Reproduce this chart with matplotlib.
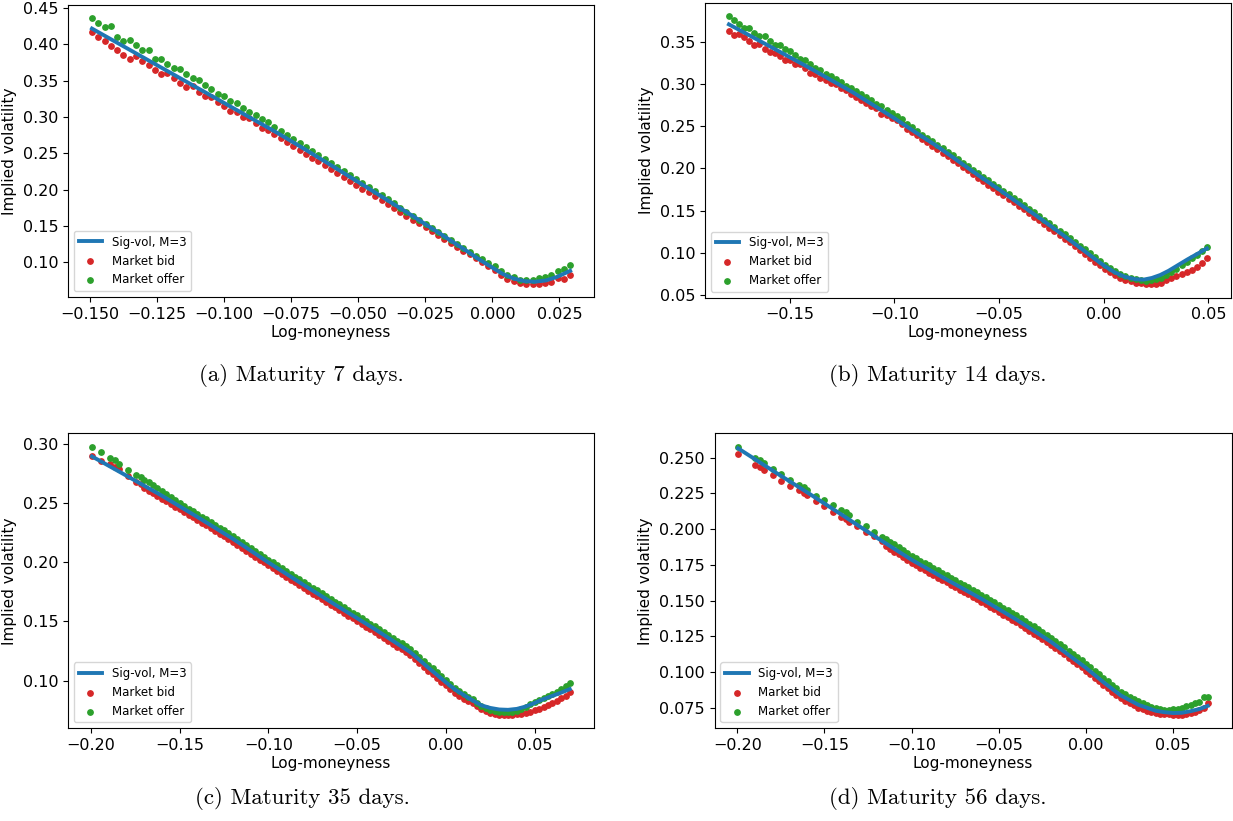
import numpy as np
import matplotlib
matplotlib.use('Agg')
import matplotlib.pyplot as plt
from matplotlib.ticker import MultipleLocator

# ---------------- (a) maturity 7 days ----------------
x_a = [-0.1492, -0.1469, -0.1445, -0.1422, -0.1398, -0.1375, -0.1351, -0.1328, -0.1304, -0.1281,
       -0.1258, -0.1234, -0.1211, -0.1187, -0.1164, -0.1140, -0.1117, -0.1093, -0.1070, -0.1047,
       -0.1023, -0.1000, -0.0976, -0.0953, -0.0929, -0.0906, -0.0882, -0.0859, -0.0835, -0.0812,
       -0.0789, -0.0765, -0.0742, -0.0718, -0.0695, -0.0671, -0.0648, -0.0624, -0.0601, -0.0578,
       -0.0554, -0.0531, -0.0507, -0.0484, -0.0460, -0.0437, -0.0413, -0.0390, -0.0366, -0.0343,
       -0.0320, -0.0296, -0.0273, -0.0249, -0.0226, -0.0202, -0.0179, -0.0155, -0.0132, -0.0109,
       -0.0085, -0.0062, -0.0038, -0.0015, 0.0009, 0.0032, 0.0056, 0.0079, 0.0103, 0.0126,
       0.0150, 0.0173, 0.0196, 0.0220, 0.0243, 0.0267, 0.0290]
offer_a = [0.4358, 0.4298, 0.4234, 0.4248, 0.4106, 0.4042, 0.4060, 0.3987, 0.3928, 0.3928,
           0.3804, 0.3800, 0.3731, 0.3671, 0.3662, 0.3589, 0.3530, 0.3511, 0.3443, 0.3379,
           0.3310, 0.3292, 0.3223, 0.3191, 0.3127, 0.3068, 0.3031, 0.2967, 0.2930, 0.2862,
           0.2807, 0.2751, 0.2696, 0.2640, 0.2585, 0.2529, 0.2474, 0.2418, 0.2363, 0.2307,
           0.2252, 0.2196, 0.2141, 0.2085, 0.2030, 0.1974, 0.1919, 0.1863, 0.1808, 0.1752,
           0.1697, 0.1641, 0.1586, 0.1530, 0.1475, 0.1419, 0.1364, 0.1308, 0.1253, 0.1197,
           0.1142, 0.1090, 0.1040, 0.0990, 0.0940, 0.0872, 0.0826, 0.0789, 0.0757, 0.0748,
           0.0757, 0.0780, 0.0794, 0.0826, 0.0872, 0.0899, 0.0954]
bid_a = [0.4166, 0.4102, 0.4042, 0.3978, 0.3918, 0.3859, 0.3800, 0.3832, 0.3767, 0.3708,
         0.3649, 0.3585, 0.3603, 0.3539, 0.3470, 0.3411, 0.3420, 0.3347, 0.3287, 0.3273,
         0.3209, 0.3150, 0.3086, 0.3068, 0.2999, 0.2981, 0.2917, 0.2853, 0.2816, 0.2761,
         0.2707, 0.2653, 0.2600, 0.2546, 0.2493, 0.2440, 0.2387, 0.2333, 0.2280, 0.2226,
         0.2173, 0.2119, 0.2066, 0.2013, 0.1960, 0.1906, 0.1853, 0.1799, 0.1746, 0.1692,
         0.1639, 0.1586, 0.1533, 0.1479, 0.1426, 0.1372, 0.1319, 0.1265, 0.1212, 0.1159,
         0.1106, 0.1056, 0.0995, 0.0940, 0.0885, 0.0826, 0.0771, 0.0734, 0.0711, 0.0702,
         0.0702, 0.0702, 0.0716, 0.0725, 0.0780, 0.0771, 0.0826]
fitx_a = [-0.1492, -0.14, -0.13, -0.12, -0.11, -0.10, -0.09, -0.08, -0.07, -0.06, -0.05, -0.04,
          -0.03, -0.02, -0.01, -0.005, 0.0, 0.004, 0.008, 0.012, 0.016, 0.020, 0.024, 0.029]
fit_a = [0.4216, 0.4025, 0.3817, 0.3609, 0.3401, 0.3193, 0.2985, 0.2777, 0.2557, 0.2332, 0.2104, 0.1874,
         0.1643, 0.1405, 0.1165, 0.1040, 0.0925, 0.0835, 0.0774, 0.0738, 0.0730, 0.0748, 0.0795, 0.0880]

# ---------------- (b) maturity 14 days ----------------
x_b = [-0.1791, -0.1767, -0.1742, -0.1718, -0.1694, -0.1670, -0.1645, -0.1621, -0.1597, -0.1572,
       -0.1548, -0.1524, -0.1499, -0.1475, -0.1451, -0.1427, -0.1402, -0.1378, -0.1354, -0.1329,
       -0.1305, -0.1281, -0.1256, -0.1232, -0.1208, -0.1184, -0.1159, -0.1135, -0.1111, -0.1086,
       -0.1062, -0.1038, -0.1013, -0.0989, -0.0965, -0.0941, -0.0916, -0.0892, -0.0868, -0.0843,
       -0.0819, -0.0795, -0.0770, -0.0746, -0.0722, -0.0698, -0.0673, -0.0649, -0.0625, -0.0600,
       -0.0576, -0.0552, -0.0527, -0.0503, -0.0479, -0.0454, -0.0430, -0.0406, -0.0382, -0.0357,
       -0.0333, -0.0309, -0.0284, -0.0260, -0.0236, -0.0211, -0.0187, -0.0163, -0.0139, -0.0114,
       -0.0090, -0.0066, -0.0041, -0.0017, 0.0007, 0.0032, 0.0056, 0.0080, 0.0104, 0.0129,
       0.0153, 0.0177, 0.0202, 0.0226, 0.0250, 0.0275, 0.0299, 0.0323, 0.0347, 0.0372,
       0.0396, 0.0420, 0.0445, 0.0469, 0.0493]
offer_b = [0.3808, 0.3757, 0.3710, 0.3662, 0.3666, 0.3611, 0.3568, 0.3568, 0.3512, 0.3469,
           0.3465, 0.3414, 0.3394, 0.3350, 0.3299, 0.3291, 0.3244, 0.3189, 0.3173, 0.3125,
           0.3102, 0.3058, 0.3031, 0.2983, 0.2960, 0.2920, 0.2881, 0.2845, 0.2810, 0.2770,
           0.2739, 0.2699, 0.2660, 0.2620, 0.2581, 0.2525, 0.2486, 0.2446, 0.2401, 0.2361,
           0.2322, 0.2283, 0.2240, 0.2198, 0.2156, 0.2114, 0.2070, 0.2028, 0.1986, 0.1942,
           0.1901, 0.1860, 0.1818, 0.1777, 0.1735, 0.1692, 0.1650, 0.1608, 0.1566, 0.1522,
           0.1480, 0.1438, 0.1393, 0.1350, 0.1307, 0.1262, 0.1218, 0.1174, 0.1129, 0.1083,
           0.1038, 0.0992, 0.0945, 0.0902, 0.0858, 0.0816, 0.0778, 0.0748, 0.0720, 0.0700,
           0.0682, 0.0672, 0.0668, 0.0672, 0.0685, 0.0705, 0.0738, 0.0772, 0.0808, 0.0850,
           0.0895, 0.0935, 0.0975, 0.1020, 0.1068]
bid_b = [0.3631, 0.3583, 0.3599, 0.3560, 0.3508, 0.3469, 0.3481, 0.3421, 0.3378, 0.3374,
         0.3335, 0.3291, 0.3283, 0.3236, 0.3236, 0.3189, 0.3137, 0.3125, 0.3074, 0.3054,
         0.3015, 0.2999, 0.2960, 0.2928, 0.2881, 0.2849, 0.2810, 0.2778, 0.2739, 0.2723,
         0.2652, 0.2632, 0.2604, 0.2573, 0.2533, 0.2474, 0.2434, 0.2395, 0.2349, 0.2309,
         0.2270, 0.2231, 0.2188, 0.2146, 0.2104, 0.2062, 0.2018, 0.1976, 0.1934, 0.1890,
         0.1849, 0.1808, 0.1766, 0.1725, 0.1683, 0.1640, 0.1598, 0.1556, 0.1514, 0.1470,
         0.1428, 0.1386, 0.1341, 0.1298, 0.1255, 0.1210, 0.1166, 0.1122, 0.1077, 0.1031,
         0.0986, 0.0940, 0.0894, 0.0851, 0.0810, 0.0772, 0.0735, 0.0705, 0.0680, 0.0660,
         0.0645, 0.0635, 0.0628, 0.0625, 0.0628, 0.0640, 0.0670, 0.0700, 0.0725, 0.0745,
         0.0770, 0.0795, 0.0830, 0.0880, 0.0940]
fitx_b = [-0.1791, -0.16, -0.14, -0.12, -0.10, -0.09, -0.08, -0.07, -0.06, -0.05, -0.04, -0.03, -0.02,
          -0.01, -0.005, 0.0, 0.005, 0.010, 0.015, 0.019, 0.023, 0.027, 0.031, 0.035, 0.040, 0.045, 0.0493]
fit_b = [0.3710, 0.3455, 0.3185, 0.2905, 0.2595, 0.2430, 0.2270, 0.2095, 0.1920, 0.1750, 0.1575, 0.1400, 0.1220,
         0.1035, 0.0940, 0.0850, 0.0770, 0.0715, 0.0685, 0.0680, 0.0700, 0.0735, 0.0785, 0.0845, 0.0920, 0.0990, 0.1050]

# ---------------- (c) maturity 35 days ----------------
x_c = [-0.1994, -0.1944, -0.1895, -0.1867, -0.1843, -0.1792, -0.1744, -0.1717,
       -0.1700, -0.1675, -0.1650, -0.1625, -0.1600, -0.1575, -0.1550, -0.1525, -0.1500, -0.1475,
       -0.1450, -0.1425, -0.1400, -0.1375, -0.1350, -0.1325, -0.1300, -0.1275, -0.1250, -0.1225,
       -0.1200, -0.1175, -0.1150, -0.1125, -0.1100, -0.1075, -0.1050, -0.1025, -0.1000, -0.0975,
       -0.0950, -0.0925, -0.0900, -0.0875, -0.0850, -0.0825, -0.0800, -0.0775, -0.0750, -0.0725,
       -0.0700, -0.0675, -0.0650, -0.0625, -0.0600, -0.0575, -0.0550, -0.0525, -0.0500, -0.0475,
       -0.0450, -0.0425, -0.0400, -0.0375, -0.0350, -0.0325, -0.0300, -0.0275, -0.0250, -0.0225,
       -0.0200, -0.0175, -0.0150, -0.0125, -0.0100, -0.0075, -0.0050, -0.0025, 0.0000, 0.0025,
       0.0050, 0.0075, 0.0100, 0.0125, 0.0150, 0.0175, 0.0200, 0.0225, 0.0250, 0.0275,
       0.0300, 0.0325, 0.0350, 0.0375, 0.0400, 0.0425, 0.0450, 0.0475, 0.0500, 0.0525,
       0.0550, 0.0575, 0.0600, 0.0625, 0.0650, 0.0675, 0.0700]
offer_c = [0.2980, 0.2932, 0.2881, 0.2870, 0.2833, 0.2780, 0.2743, 0.2726,
           0.2700, 0.2679, 0.2653, 0.2631, 0.2605, 0.2583, 0.2555, 0.2533, 0.2505, 0.2478,
           0.2455, 0.2433, 0.2410, 0.2387, 0.2364, 0.2341, 0.2318, 0.2294, 0.2271, 0.2248,
           0.2225, 0.2200, 0.2175, 0.2150, 0.2125, 0.2100, 0.2075, 0.2050, 0.2025, 0.2001,
           0.1977, 0.1953, 0.1929, 0.1905, 0.1881, 0.1857, 0.1833, 0.1810, 0.1786, 0.1763,
           0.1739, 0.1716, 0.1692, 0.1669, 0.1645, 0.1622, 0.1599, 0.1576, 0.1553, 0.1529,
           0.1506, 0.1483, 0.1460, 0.1436, 0.1411, 0.1387, 0.1363, 0.1338, 0.1314, 0.1289,
           0.1265, 0.1233, 0.1200, 0.1168, 0.1135, 0.1104, 0.1073, 0.1041, 0.1005, 0.0972,
           0.0940, 0.0912, 0.0888, 0.0864, 0.0840, 0.0813, 0.0788, 0.0768, 0.0750, 0.0740,
           0.0733, 0.0731, 0.0730, 0.0736, 0.0745, 0.0762, 0.0780, 0.0799, 0.0818, 0.0835,
           0.0852, 0.0870, 0.0888, 0.0906, 0.0925, 0.0950, 0.0982]
bid_c = [0.2898, 0.2856, 0.2836, 0.2805, 0.2791, 0.2729, 0.2684, 0.2667,
         0.2630, 0.2609, 0.2588, 0.2566, 0.2540, 0.2518, 0.2495, 0.2473, 0.2450, 0.2428,
         0.2405, 0.2383, 0.2360, 0.2337, 0.2314, 0.2291, 0.2268, 0.2244, 0.2221, 0.2198,
         0.2175, 0.2150, 0.2125, 0.2100, 0.2075, 0.2050, 0.2025, 0.2000, 0.1975, 0.1951,
         0.1927, 0.1903, 0.1879, 0.1855, 0.1831, 0.1807, 0.1783, 0.1760, 0.1736, 0.1713,
         0.1689, 0.1666, 0.1642, 0.1619, 0.1595, 0.1572, 0.1549, 0.1526, 0.1503, 0.1479,
         0.1456, 0.1433, 0.1410, 0.1386, 0.1361, 0.1337, 0.1313, 0.1288, 0.1264, 0.1239,
         0.1215, 0.1183, 0.1150, 0.1118, 0.1085, 0.1054, 0.1023, 0.0991, 0.0958, 0.0925,
         0.0895, 0.0868, 0.0845, 0.0826, 0.0808, 0.0784, 0.0762, 0.0742, 0.0725, 0.0714,
         0.0710, 0.0709, 0.0710, 0.0711, 0.0713, 0.0718, 0.0725, 0.0736, 0.0748, 0.0763,
         0.0778, 0.0795, 0.0812, 0.0830, 0.0850, 0.0873, 0.0900]
fitx_c = [-0.1994, -0.18, -0.16, -0.14, -0.12, -0.10, -0.08, -0.06, -0.04, -0.02, -0.01, 0.0, 0.005,
          0.010, 0.015, 0.020, 0.025, 0.030, 0.035, 0.040, 0.045, 0.050, 0.055, 0.060, 0.065, 0.0698]
fit_c = [0.2898, 0.2735, 0.2565, 0.2385, 0.2200, 0.2000, 0.1808, 0.1620, 0.1435, 0.1240, 0.1110, 0.0985, 0.0925,
         0.0878, 0.0832, 0.0790, 0.0768, 0.0755, 0.0752, 0.0760, 0.0780, 0.0810, 0.0843, 0.0870, 0.0898, 0.0927]

# ---------------- (d) maturity 56 days ----------------
x_d = [-0.1996, -0.1897, -0.1872, -0.1849, -0.1796, -0.1750, -0.1700, -0.1649, -0.1620, -0.1601,
       -0.1551, -0.1502, -0.1452, -0.1406, -0.1379, -0.1358, -0.1311, -0.1261, -0.1215, -0.1171,
       -0.1150, -0.1125, -0.1100, -0.1075, -0.1050, -0.1025, -0.1000, -0.0975, -0.0950, -0.0925,
       -0.0900, -0.0875, -0.0850, -0.0825, -0.0800, -0.0775, -0.0750, -0.0725, -0.0700, -0.0675,
       -0.0650, -0.0625, -0.0600, -0.0575, -0.0550, -0.0525, -0.0500, -0.0475, -0.0450, -0.0425,
       -0.0400, -0.0375, -0.0350, -0.0325, -0.0300, -0.0275, -0.0250, -0.0225, -0.0200, -0.0175,
       -0.0150, -0.0125, -0.0100, -0.0075, -0.0050, -0.0025, 0.0000, 0.0025, 0.0050, 0.0075,
       0.0100, 0.0125, 0.0150, 0.0175, 0.0200, 0.0225, 0.0250, 0.0275, 0.0300, 0.0325,
       0.0350, 0.0375, 0.0400, 0.0425, 0.0450, 0.0475, 0.0500, 0.0525, 0.0550, 0.0575,
       0.0600, 0.0625, 0.0650, 0.0675, 0.0700]
offer_d = [0.2577, 0.2500, 0.2486, 0.2463, 0.2423, 0.2388, 0.2346, 0.2311, 0.2293, 0.2274,
           0.2234, 0.2202, 0.2171, 0.2132, 0.2118, 0.2099, 0.2052, 0.2024, 0.1978, 0.1945,
           0.1931, 0.1912, 0.1893, 0.1873, 0.1854, 0.1834, 0.1815, 0.1798, 0.1780, 0.1763,
           0.1746, 0.1729, 0.1711, 0.1694, 0.1677, 0.1660, 0.1643, 0.1626, 0.1610, 0.1593,
           0.1576, 0.1559, 0.1542, 0.1524, 0.1506, 0.1488, 0.1470, 0.1451, 0.1433, 0.1415,
           0.1397, 0.1377, 0.1358, 0.1338, 0.1319, 0.1299, 0.1279, 0.1260, 0.1240, 0.1217,
           0.1195, 0.1172, 0.1149, 0.1126, 0.1104, 0.1081, 0.1058, 0.1033, 0.1008, 0.0983,
           0.0957, 0.0934, 0.0910, 0.0886, 0.0862, 0.0845, 0.0827, 0.0810, 0.0793, 0.0780,
           0.0767, 0.0755, 0.0745, 0.0739, 0.0735, 0.0735, 0.0738, 0.0742, 0.0750, 0.0758,
           0.0770, 0.0780, 0.0790, 0.0822, 0.0825]
bid_d = [0.2524, 0.2449, 0.2437, 0.2416, 0.2377, 0.2335, 0.2304, 0.2276, 0.2253, 0.2239,
         0.2199, 0.2164, 0.2118, 0.2085, 0.2071, 0.2048, 0.2020, 0.1980, 0.1950, 0.1915,
         0.1881, 0.1862, 0.1843, 0.1823, 0.1804, 0.1784, 0.1765, 0.1748, 0.1730, 0.1713,
         0.1696, 0.1679, 0.1661, 0.1644, 0.1627, 0.1610, 0.1593, 0.1576, 0.1560, 0.1543,
         0.1526, 0.1509, 0.1492, 0.1474, 0.1456, 0.1438, 0.1420, 0.1401, 0.1383, 0.1365,
         0.1347, 0.1327, 0.1308, 0.1288, 0.1269, 0.1249, 0.1229, 0.1210, 0.1190, 0.1167,
         0.1145, 0.1122, 0.1099, 0.1076, 0.1054, 0.1031, 0.1008, 0.0983, 0.0958, 0.0933,
         0.0908, 0.0885, 0.0862, 0.0838, 0.0815, 0.0799, 0.0782, 0.0766, 0.0750, 0.0740,
         0.0729, 0.0719, 0.0712, 0.0707, 0.0704, 0.0702, 0.0700, 0.0699, 0.0700, 0.0706,
         0.0714, 0.0722, 0.0735, 0.0750, 0.0782]
fitx_d = [-0.1996, -0.18, -0.16, -0.14, -0.12, -0.10, -0.08, -0.06, -0.04, -0.02, -0.01,
          0.0, 0.01, 0.02, 0.03, 0.04, 0.045, 0.05, 0.055, 0.06, 0.065, 0.0698]
fit_d = [0.2566, 0.2412, 0.2258, 0.2100, 0.1940, 0.1785, 0.1647, 0.1512, 0.1367, 0.1210, 0.1119,
         0.1028, 0.0928, 0.0835, 0.0770, 0.0728, 0.0718, 0.0712, 0.0714, 0.0725, 0.0740, 0.0762]

legendas = ['(a) Maturity 7 days.', '(b) Maturity 14 days.',
            '(c) Maturity 35 days.', '(d) Maturity 56 days.']


def painel(ax, x, bid, offer, xfit, fit, passo_x, passo_y):
    ax.plot(xfit, fit, color='tab:blue', lw=2.8, zorder=3, label='Sig-vol, M=3')
    ax.scatter(x, bid, s=15, color='tab:red', zorder=2, label='Market bid')
    ax.scatter(x, offer, s=15, color='tab:green', zorder=2, label='Market offer')
    ax.xaxis.set_major_locator(MultipleLocator(passo_x))
    ax.yaxis.set_major_locator(MultipleLocator(passo_y))
    ax.tick_params(labelsize=11.5)
    ax.set_xlabel('Log-moneyness', fontsize=11, labelpad=2)
    ax.set_ylabel('Implied volatility', fontsize=11)
    ax.legend(loc='lower left', fontsize=8.5)


fig = plt.figure(figsize=(12.33, 8.21), dpi=100)
ax_a = fig.add_axes([0.0552, 0.6382, 0.4266, 0.3557])
ax_b = fig.add_axes([0.5718, 0.6374, 0.4264, 0.3593])
ax_c = fig.add_axes([0.0552, 0.1129, 0.4266, 0.3593])
ax_d = fig.add_axes([0.5795, 0.1129, 0.4193, 0.3593])

painel(ax_a, x_a, bid_a, offer_a, fitx_a, fit_a, 0.025, 0.05)
painel(ax_b, x_b, bid_b, offer_b, fitx_b, fit_b, 0.05, 0.05)
painel(ax_c, x_c, bid_c, offer_c, fitx_c, fit_c, 0.05, 0.05)
painel(ax_d, x_d, bid_d, offer_d, fitx_d, fit_d, 0.05, 0.025)

# legendas das figuras (estilo LaTeX)
pos = [(0.2441, 0.5432), (0.7607, 0.5432), (0.2449, 0.0280), (0.7607, 0.0280)]
for (px, py), txt in zip(pos, legendas):
    fig.text(px, py, txt, ha='center', va='center', fontsize=16.5, family='cmr10')

fig.savefig('out.png', dpi=100)
